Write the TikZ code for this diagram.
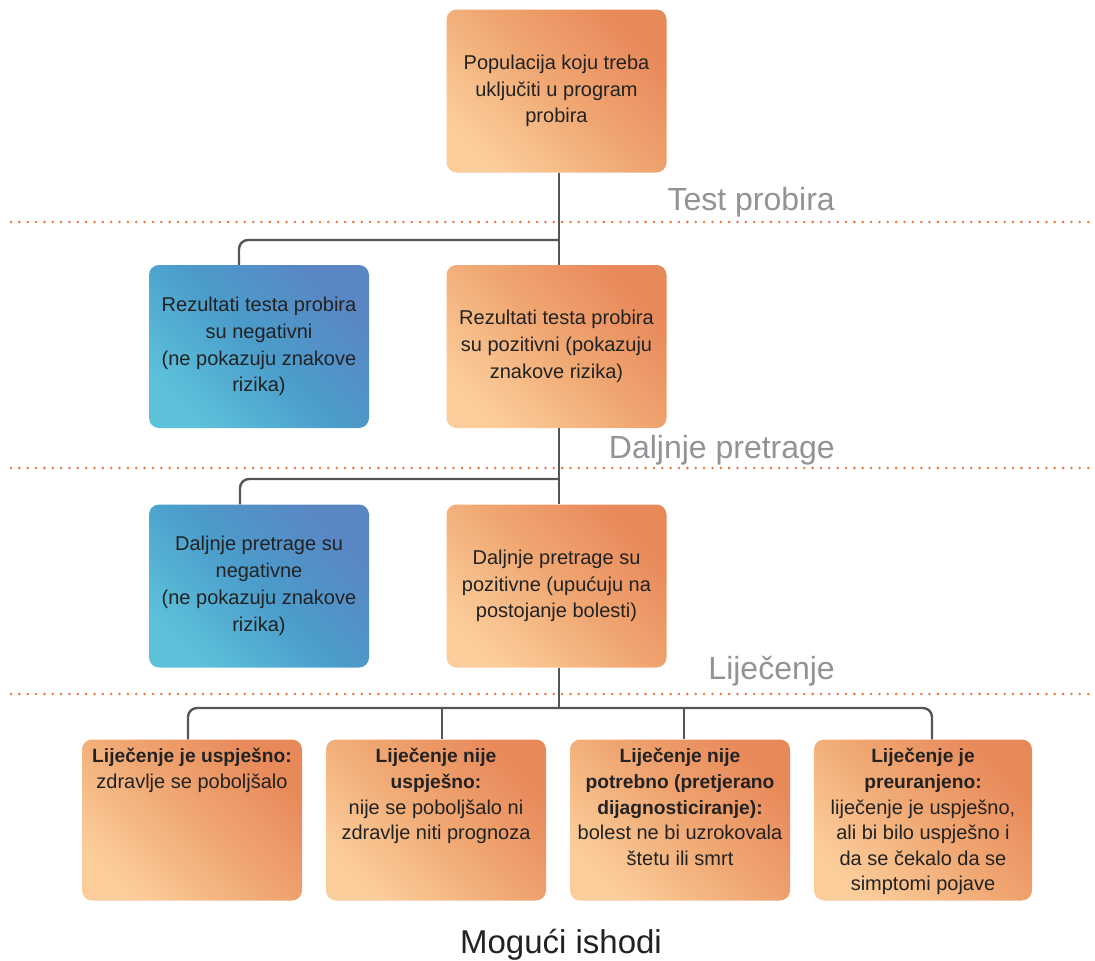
\documentclass[tikz,border=0pt]{standalone}
\usepackage{fontspec}
\setmainfont{Liberation Sans}
\definecolor{ordark}{HTML}{E8895A}
\definecolor{orlight}{HTML}{FBCD9A}
\definecolor{ormid}{HTML}{F0A873}
\definecolor{bldark}{HTML}{5A86C4}
\definecolor{bllight}{HTML}{5DC1DA}
\definecolor{blmid}{HTML}{4B9CCB}
\definecolor{dotc}{HTML}{E8763A}
\definecolor{linec}{HTML}{555555}
\definecolor{headc}{HTML}{929297}
\definecolor{txt}{HTML}{222222}
\newcommand{\bl}[1]{{\fontsize{19.2}{26.5}\selectfont\bfseries #1}}
\tikzset{
  boxbase/.style={rounded corners=10pt, minimum width=220pt, minimum height=163pt, inner sep=0pt,
    text=txt, align=center, font=\fontsize{20}{26.8}\selectfont},
  obox/.style={boxbase, bottom color=orlight, top color=ordark, middle color=ormid, shading angle=-45},
  bbox/.style={boxbase, bottom color=bllight, top color=bldark, middle color=blmid, shading angle=-45},
  conn/.style={draw=linec, line width=2.4pt, rounded corners=9pt},
  dotline/.style={draw=dotc, line width=2.8pt, line cap=round, dash pattern=on 0pt off 8.35pt},
  heading/.style={text=headc, font=\fontsize{32}{38}\selectfont, inner sep=0pt},
  btext/.style={text=txt, align=center, font=\fontsize{20}{25.6}\selectfont, inner sep=0pt}
}
\begin{document}
\begin{tikzpicture}[x=1pt,y=-1pt]
\useasboundingbox (0,0) rectangle (1095,961);
% dotted separators
\draw[dotline] (11,222) -- (1095,222);
\draw[dotline] (11,468) -- (1095,468);
\draw[dotline] (11,694) -- (1095,694);
% headings
\node[heading, anchor=base east] (h1) at (835,210) {Test probira};
\node[heading, anchor=base east] (h2) at (835,458) {Daljnje pretrage};
\node[heading, anchor=base east] (h3) at (835,679) {Liječenje};
% row 1
\node[obox] (top) at (556.5,91) {Populacija koju treba\\uključiti u program\\probira};
% row 2
\node[bbox] (neg1) at (259,346.5) {Rezultati testa probira\\su negativni\\(ne pokazuju znakove\\rizika)};
\node[obox] (pos1) at (556.5,346.5) {Rezultati testa probira\\su pozitivni (pokazuju\\znakove rizika)};
% row 3
\node[bbox] (neg2) at (259,586) {Daljnje pretrage su\\negativne\\(ne pokazuju znakove\\rizika)};
\node[obox] (pos2) at (556.5,586) {Daljnje pretrage su\\pozitivne (upućuju na\\postojanje bolesti)};
% row 4
\node[obox, minimum height=161pt] (o1) at (192,820) {};
\node[obox, minimum height=161pt] (o2) at (436,820) {};
\node[obox, minimum height=161pt] (o3) at (680,820) {};
\node[obox, minimum height=161pt, minimum width=218pt] (o4) at (923,820) {};
\node[btext, anchor=north] (t1) at ([yshift=-9pt]o1.north) {\bl{Liječenje je uspješno:}\\zdravlje se poboljšalo};
\node[btext, anchor=north] (t2) at ([yshift=-9pt]o2.north) {\bl{Liječenje nije}\\\bl{uspješno:}\\nije se poboljšalo ni\\zdravlje niti prognoza};
\node[btext, anchor=north] (t3) at ([yshift=-9pt]o3.north) {\bl{Liječenje nije}\\\bl{potrebno (pretjerano}\\\bl{dijagnosticiranje):}\\bolest ne bi uzrokovala\\štetu ili smrt};
\node[btext, anchor=north] (t4) at ([yshift=-9pt]o4.north) {\bl{Liječenje je}\\\bl{preuranjeno:}\\liječenje je uspješno,\\ali bi bilo uspješno i\\da se čekalo da se\\simptomi pojave};
% bottom caption
\node[font=\fontsize{33}{38}\selectfont, text=txt, anchor=base, inner sep=0pt] (cap) at (561,953) {Mogući ishodi};
% coordinates for connectors
\coordinate (j1) at (559,240);
\coordinate (j2) at (559,479);
\coordinate (j3) at (559,708);
% connectors
\draw[conn] (top.south -| j1) -- (pos1.north -| j1);
\draw[conn] (j1) -- (239,240) -- (neg1.north -| 239,0);
\draw[conn] (pos1.south -| j2) -- (pos2.north -| j2);
\draw[conn] (j2) -- (240,479) -- (neg2.north -| 240,0);
\draw[conn] (pos2.south -| j3) -- (j3);
\draw[conn] (o1.north -| 188,0) -- (188,708) -- (932,708) -- (o4.north -| 932,0);
\draw[conn] (442,708) -- (o2.north -| 442,0);
\draw[conn] (684,708) -- (o3.north -| 684,0);
\end{tikzpicture}
\end{document}
